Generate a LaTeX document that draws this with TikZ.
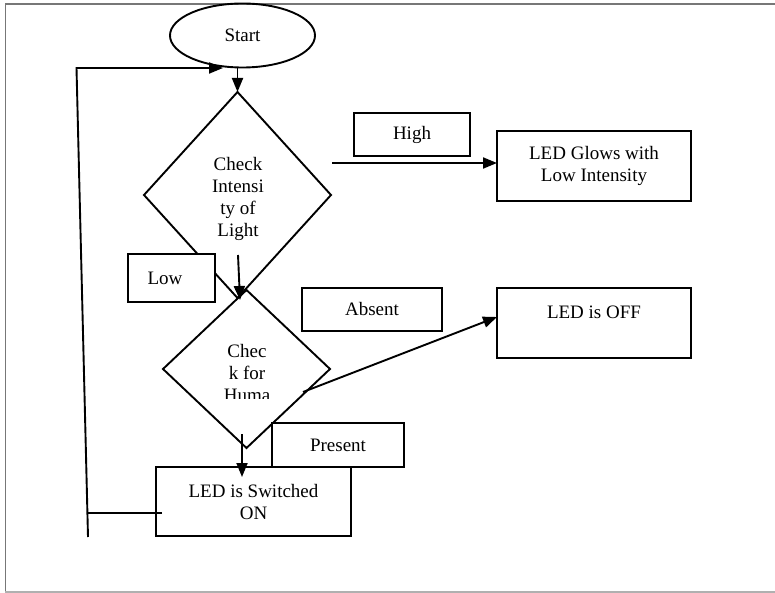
\documentclass[tikz,border=0pt]{standalone}
\usepackage{fontspec}
\setmainfont{Liberation Serif}
\usetikzlibrary{arrows.meta,shapes.geometric}
\definecolor{framedark}{HTML}{777777}
\definecolor{framelight}{HTML}{B0B0B0}
\begin{document}
\begin{tikzpicture}[x=1pt,y=-1pt, line width=1.9pt,
  every node/.style={font=\fontsize{19}{22}\selectfont},
  box/.style={draw, rectangle, fill=white, inner sep=0pt, outer sep=0pt, align=center},
  dec/.style={draw, diamond, inner sep=0pt, outer sep=0pt},
  arr/.style={-{Triangle[length=14pt,width=11pt]}},
  txt/.style={align=center, inner sep=0pt}]
\useasboundingbox (0,0) rectangle (775,593);
% frame
\draw[framedark, line width=1.3pt] (5.5,593) -- (5.5,4) -- (775,4);
\draw[framelight, line width=1.3pt] (5,592) -- (775,592);
% start
\node[draw, ellipse, minimum width=145, minimum height=64, inner sep=0pt] (start) at (242.5,35.5) {Start};
% decisions
\node[dec, minimum width=187, minimum height=206] (d1) at (237.5,195) {};
\node[dec, minimum width=167, minimum height=158] (d2) at (246.5,369) {};
\node[txt] (t1) at (238,199) {Check\\Intensi\\ty of\\Light};
\begin{scope}
  \clip (150,330) rectangle (340,398);
  \node[txt] (t2) at (247,373) {Chec\\k for\\Huma};
\end{scope}
% boxes
\node[box, minimum width=116, minimum height=43] (high) at (412,134.5) {High};
\node[box, minimum width=194, minimum height=70] (glow) at (594,166) {LED Glows with\\Low Intensity};
\node[box, minimum width=140, minimum height=43] (absent) at (372,309.5) {Absent};
\node[box, minimum width=194, minimum height=70] (off) at (594,323) {LED is OFF\\\mbox{}};
\node[box, minimum width=87, minimum height=48] (low) at (171.5,278) {Low\hspace*{13pt}};
\node[box, minimum width=132, minimum height=44] (present) at (338,445) {Present};
\node[box, minimum width=195, minimum height=69] (on) at (253.5,501.5) {LED is Switched\\ON};
% connectors
\draw[arr] (start.south -| d1.north) -- (d1.north);
\coordinate (lb) at (88,537);
\coordinate (lt) at (76.5,68);
\coordinate (lj) at (87.4,513);
\coordinate (onin) at (162,513);
\coordinate (lend) at (223,68);
\draw (onin) -- (lj);
\draw[arr] (lb) -- (lt) -- (lend);
\coordinate (a2s) at (238,255);
\coordinate (a2e) at (240,300);
\draw[arr] (a2s) -- (a2e);
\coordinate (hs) at (332,163);
\draw[arr] (hs) -- (hs -| glow.west);
\coordinate (as) at (303,392);
\coordinate (ae) at (497,317);
\draw[arr] (as) -- (ae);
\coordinate (ps) at (242,434);
\coordinate (pe) at (242,477);
\draw[arr] (ps) -- (pe);
\end{tikzpicture}
\end{document}
